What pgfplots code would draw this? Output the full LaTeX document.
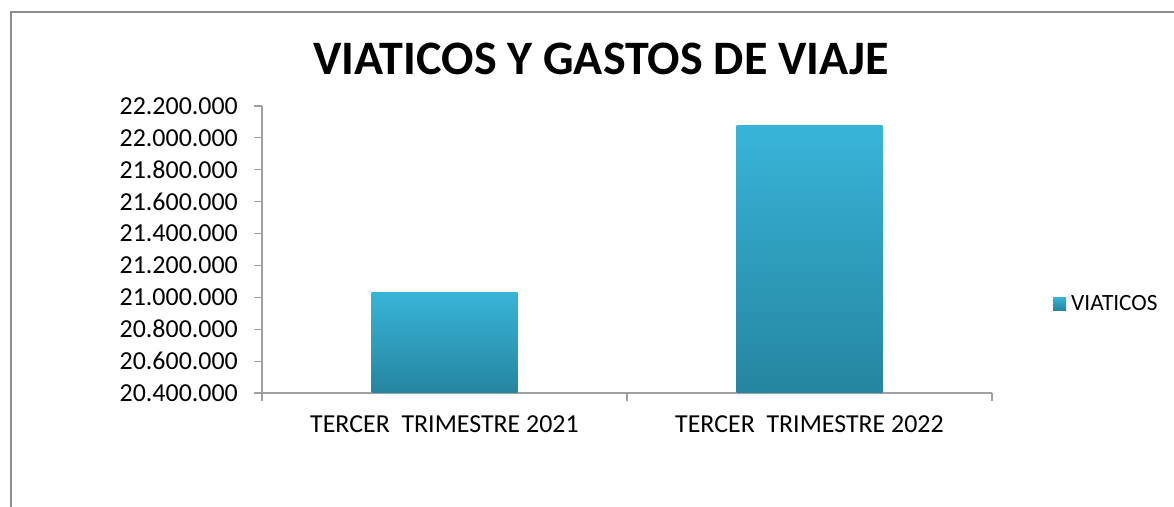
\documentclass[border=0pt]{standalone}
\usepackage{pgfplots}
\pgfplotsset{compat=1.18}
\usepackage{fontspec}
\setmainfont{Carlito}
\definecolor{bartop}{HTML}{38B4D8}
\definecolor{barbot}{HTML}{2585A0}
\definecolor{axgray}{HTML}{A0A0A0}
\definecolor{framegray}{HTML}{8C8C8C}
\begin{document}
\begin{tikzpicture}
\draw[framegray, line width=1.5bp] (11bp,-20bp) -- (11bp,495bp) -- (1200bp,495bp);
\node[anchor=base, font=\fontsize{48.2}{58}\selectfont\bfseries] at (601bp,432bp) {VIATICOS Y GASTOS DE VIAJE};
\begin{axis}[
  at={(262bp,114bp)}, anchor=south west,
  width=730bp, height=287bp, scale only axis,
  xmin=-0.5, xmax=1.5,
  ymin=20400000, ymax=22200000,
  ytick={20400000,20600000,20800000,21000000,21200000,21400000,21600000,21800000,22000000,22200000},
  yticklabels={20.400.000,20.600.000,20.800.000,21.000.000,21.200.000,21.400.000,21.600.000,21.800.000,22.000.000,22.200.000},
  scaled y ticks=false,
  axis x line*=bottom, axis y line*=left,
  axis line style={axgray, line width=1.2bp},
  every tick/.style={axgray, line width=1.2bp},
  tick align=outside,
  major tick length=8bp,
  xtick={-0.5,0.5,1.5},
  xticklabels={,,},
  extra x ticks={0,1},
  extra x tick labels={TERCER\ \ TRIMESTRE 2021, TERCER\ \ TRIMESTRE 2022},
  extra x tick style={major tick length=0pt},
  ticklabel style={font=\fontsize{26}{31}\selectfont, text=black},
  yticklabel style={inner sep=0pt, xshift=-16bp},
  xticklabel style={inner sep=0pt, yshift=-22bp},
  legend style={at={(1.0836,0.31)}, anchor=west, draw=none, fill=none,
    font=\fontsize{23.4}{28}\selectfont, inner sep=0pt},
  legend image code/.code={\fill[top color=bartop, bottom color=barbot] (0bp,-6bp) rectangle (13bp,7bp);},
]
\addplot[ybar, bar width=146bp, bar shift=0pt, draw=none, top color=bartop, bottom color=barbot] coordinates {(0,21030000)};
\addlegendentry{\hspace*{3bp}VIATICOS}
\addplot[ybar, bar width=146bp, bar shift=0pt, draw=none, top color=bartop, bottom color=barbot, forget plot] coordinates {(1,22080000)};
\end{axis}
\pgfresetboundingbox
\useasboundingbox (0,0) rectangle (1174bp,507bp);
\end{tikzpicture}
\end{document}
